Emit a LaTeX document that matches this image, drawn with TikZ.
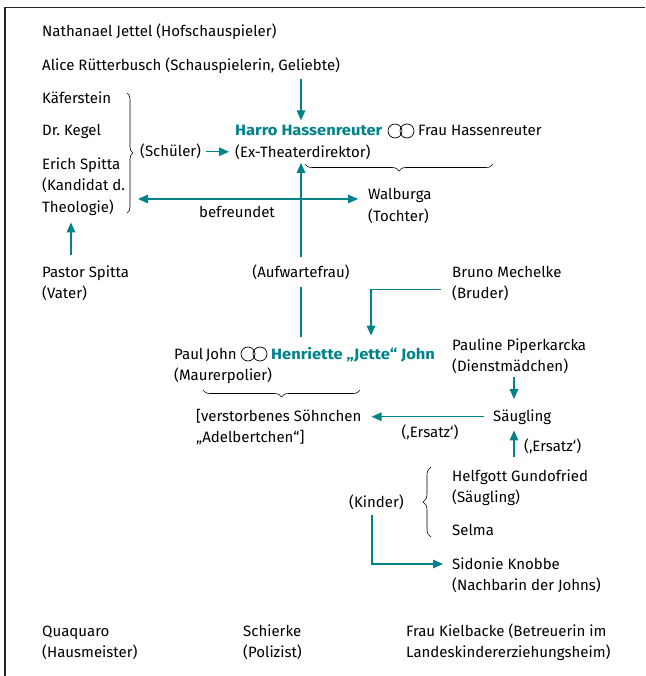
\documentclass[tikz,border=0pt]{standalone}
\usepackage{fontspec}
\setmainfont{Fira Sans}[BoldFeatures={FakeStretch=1.1}]
\usetikzlibrary{arrows.meta,decorations.pathreplacing,calc}
\definecolor{jteal}{RGB}{0,130,138}
\frenchspacing
\begin{document}
\begin{tikzpicture}[x=1pt,y=-1pt,
  every node/.style={inner sep=0pt, anchor=base west, align=left, font=\fontsize{15}{21.5}\selectfont},
  arr/.style={draw=jteal, line width=1.4pt, -{Triangle[length=10pt,width=8.5pt]}},
  darr/.style={draw=jteal, line width=1.4pt, {Triangle[length=10pt,width=8.5pt]}-{Triangle[length=10pt,width=8.5pt]}},
  brc/.style={draw=black, line width=0.6pt, decorate, decoration={brace, amplitude=#1}},
  rings/.style={draw, circle, line width=0.7pt, minimum size=14pt, inner sep=0pt, anchor=center},
  lbl/.style={anchor=base}]
\useasboundingbox (0,0) rectangle (645,676);
\draw[line width=1.3pt, black!85] (5,676) -- (5,7.3) -- (645,7.3);

% people (multi-line nodes are placed at the baseline of their last line)
\node (nath) at (42,37) {Nathanael Jettel (Hofschauspieler)};
\node (alice) at (42,71) {Alice Rütterbusch (Schauspielerin, Geliebte)};
\node (kaef) at (42,104) {Käferstein};
\node (kegel) at (42,136) {Dr.\ Kegel};
\node (erich) at (42,212) {Erich Spitta\\(Kandidat d.\\Theologie)};
\node (schueler) at (140,157) {(Schüler)};
\node (harro) at (235,157.5) {{\color{jteal}\bfseries Harro Hassenreuter}\\(Ex-Theaterdirektor)};
\node[rings] (r1a) at (395,131) {};
\node[rings] (r1b) at (407,131) {};
\node (frau) at (418,136) {Frau Hassenreuter};
\node (walb) at (368,221.5) {Walburga\\(Tochter)};
\node[lbl] (bef) at (237,217) {befreundet};
\node (pastor) at (42,298.5) {Pastor Spitta\\(Vater)};
\node (bruno) at (452,298.5) {Bruno Mechelke\\(Bruder)};
\node (pauline) at (452,371.5) {Pauline Piperkarcka\\(Dienstmädchen)};
\node (paul) at (174,380.5) {Paul\kern2.5pt John\\(Maurerpolier)};
\node[rings] (r2a) at (248,354) {};
\node[rings] (r2b) at (260,354) {};
\node (henr) at (271,359) {\color{jteal}\bfseries Henriette „Jette“ John};
\node (adel) at (196,442.5) {[verstorbenes Söhnchen\\„Adelbertchen“]};
\node (saeug) at (493,421) {Säugling};
\node[lbl] (ers1) at (430,437) {(‚Ersatz‘)};
\node (ers2) at (524,451) {(‚Ersatz‘)};
\node (helf) at (452,502.5) {Helfgott Gundofried\\(Säugling)};
\node (selma) at (452,535) {Selma};
\node (kinder) at (349,507) {(Kinder)};
\node (sido) at (452,590.5) {Sidonie Knobbe\\(Nachbarin der Johns)};
\node (quaq) at (42,657.5) {Quaquaro\\(Hausmeister)};
\node (schierke) at (243,657.5) {Schierke\\(Polizist)};
\node (kiel) at (406,657.5) {Frau Kielbacke (Betreuerin im\\Landeskindererziehungsheim)};

% helper coordinates
\coordinate (cx) at (301,0);
\coordinate (px) at (71,0);
\coordinate (bx) at (371,0);
\coordinate (sx) at (514,0);
\coordinate (kx) at (372,0);
\coordinate (befL) at (138,199);

% braces
\draw[brc=6pt] (127,93) -- (127,213);
\draw[brc=7pt] (493,164) -- (305,164);
\draw[brc=7pt] (360,390) -- (203,390);
\draw[brc=8pt] (431,537) -- (431,467);

% connectors
\draw[arr, shorten <=5pt, shorten >=5pt] (cx |- alice.south) -- (cx |- harro.north);
\draw[arr, shorten <=5pt, shorten >=6pt] (schueler.east) -- (schueler.east -| harro.west);
\draw[darr, shorten >=10pt] (befL) -- (walb.west |- befL);
\draw[arr, shorten <=10pt, shorten >=3pt] (cx |- henr.north) -- node[pos=0.4, fill=white, inner xsep=3pt, inner ysep=8pt, anchor=center] (aufw) {(Aufwartefrau)} (cx |- harro.south);
\draw[arr, shorten <=10pt, shorten >=7pt] (px |- pastor.north) -- (px |- erich.south);
\draw[arr, shorten >=11pt] ($(bruno.west)+(-11,6)$) -| (bx |- henr.north);
\draw[arr, shorten <=3pt, shorten >=10pt] (sx |- pauline.south) -- (sx |- saeug.north);
\draw[arr, shorten <=9pt, shorten >=10pt] (saeug.west) -- (saeug.west -| adel.east);
\draw[arr, shorten <=12pt, shorten >=6pt] (sx |- helf.north) -- (sx |- saeug.south);
\draw[arr, shorten >=9pt] ($(kx |- kinder.south)+(0,6)$) |- ($(sido.base west)+(0,-26.5)$);
\end{tikzpicture}
\end{document}
